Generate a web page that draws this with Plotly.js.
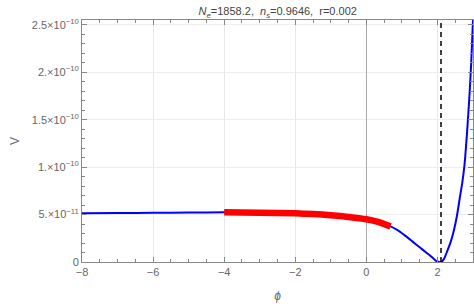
<!DOCTYPE html>
<html>
<head>
<meta charset="utf-8">
<script src="https://cdn.plot.ly/plotly-3.0.1.min.js"></script>
<style>html,body{margin:0;padding:0;background:#fff}#plot{width:474px;height:304px}</style>
</head>
<body>
<div id="plot"></div>
<script>
// full potential curve V(phi)
const phi = [-8, -7, -6, -5, -4, -3, -2, -1.5, -1, -0.5, 0, 0.3, 0.68, 0.9, 1.1, 1.3, 1.5, 1.7, 1.85, 1.95, 2.02, 2.08, 2.14, 2.2, 2.27, 2.37, 2.46, 2.55, 2.63, 2.7, 2.76, 2.83, 2.9, 2.95, 3.0];
const V = [5.13e-11, 5.16e-11, 5.18e-11, 5.21e-11, 5.23e-11, 5.2e-11, 5.13e-11, 5.05e-11, 4.93e-11, 4.75e-11, 4.5e-11, 4.25e-11, 3.75e-11, 3.3e-11, 2.75e-11, 2.15e-11, 1.55e-11, 0.95e-11, 0.5e-11, 0.15e-11, 0.02e-11, 0, 0.1e-11, 0.45e-11, 1.1e-11, 2.1e-11, 3.3e-11, 4.9e-11, 6.8e-11, 8.4e-11, 10.2e-11, 13.5e-11, 17.5e-11, 21e-11, 25.5e-11];
// inflationary segment (highlighted)
const redPhi = [-4, -3, -2, -1.5, -1, -0.5, 0, 0.3, 0.68];
const redV = [5.23e-11, 5.2e-11, 5.13e-11, 5.05e-11, 4.93e-11, 4.75e-11, 4.5e-11, 4.25e-11, 3.75e-11];
// end of inflation / minimum marker
const phiMark = 2.1;
// tick labels
const yTickVals = [0, 5e-11, 1e-10, 1.5e-10, 2e-10, 2.5e-10];
const yTickText = ['0', '5.\u00d710<sup>\u221211</sup>', '1.\u00d710<sup>\u221210</sup>', '1.5\u00d710<sup>\u221210</sup>', '2.\u00d710<sup>\u221210</sup>', '2.5\u00d710<sup>\u221210</sup>'];
const xTickVals = [-8, -6, -4, -2, 0, 2];
const xTickText = ['\u22128', '\u22126', '\u22124', '\u22122', '0', '2'];

const fontFam = 'Liberation Sans, Arial, sans-serif';
const grey = '#666';

const traces = [
  {x: phi, y: V, type: 'scatter', mode: 'lines', line: {color: '#0000ff', width: 2, shape: 'spline', smoothing: 0.6}, hoverinfo: 'skip'},
  {x: redPhi, y: redV, type: 'scatter', mode: 'lines', line: {color: '#ff0000', width: 6.5, shape: 'spline', smoothing: 0.6}, hoverinfo: 'skip'}
];

const layout = {
  width: 474, height: 304,
  margin: {l: 82, r: 1, t: 20, b: 42},
  paper_bgcolor: '#fff', plot_bgcolor: '#fff',
  showlegend: false,
  font: {family: fontFam, size: 11, color: grey},
  title: {text: '<i>N</i><sub><i>e</i></sub>=1858.2,  <i>n</i><sub><i>s</i></sub>=0.9646,  r=0.002', x: 0.586, xanchor: 'center', y: 0.975, yanchor: 'top', font: {family: fontFam, size: 11, color: '#444'}},
  xaxis: {
    range: [-8, 3], tickvals: xTickVals, ticktext: xTickText,
    ticks: 'inside', ticklen: 5, tickcolor: '#888', tickwidth: 1,
    minor: {dtick: 0.5, tick0: 0, ticks: 'inside', ticklen: 3, tickcolor: '#888', showgrid: false},
    showline: true, linecolor: '#888', linewidth: 1, mirror: 'ticks',
    showgrid: true, gridcolor: '#e6e6e6', gridwidth: 1,
    zeroline: true, zerolinecolor: '#aaa', zerolinewidth: 1,
    tickfont: {family: fontFam, size: 11, color: grey},
    title: {text: '<i>\u03d5</i>', font: {family: fontFam, size: 12, color: grey}, standoff: 14}
  },
  yaxis: {
    range: [0, 2.55e-10], tickvals: yTickVals, ticktext: yTickText,
    ticks: 'inside', ticklen: 5, tickcolor: '#888', tickwidth: 1,
    minor: {dtick: 1e-11, tick0: 0, ticks: 'inside', ticklen: 3, tickcolor: '#888', showgrid: false},
    showline: true, linecolor: '#888', linewidth: 1, mirror: 'ticks',
    showgrid: true, gridcolor: '#eeeeee', gridwidth: 1,
    zeroline: false,
    tickfont: {family: fontFam, size: 11, color: grey},
    title: {text: 'V', font: {family: fontFam, size: 12, color: grey}, standoff: 9}
  },
  shapes: [
    {type: 'line', xref: 'x', yref: 'paper', x0: phiMark, x1: phiMark, y0: 0, y1: 1, line: {color: '#000', width: 1.5, dash: '5px,4px'}}
  ]
};

Plotly.newPlot('plot', traces, layout, {displayModeBar: false, staticPlot: true});
</script>
</body>
</html>
